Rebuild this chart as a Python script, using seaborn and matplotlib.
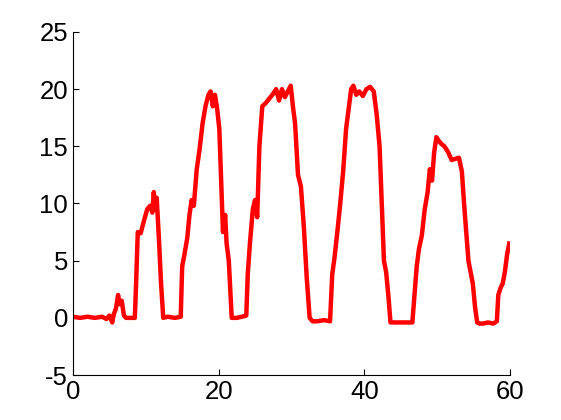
import matplotlib
matplotlib.use("Agg")
import matplotlib.pyplot as plt
import seaborn as sns

# signal (time vs. value)
t = [0, 1, 2, 3, 4, 4.6, 5.0, 5.4, 5.6, 5.9, 6.2, 6.4, 6.7, 7.0, 7.3, 8.0, 8.5,
     8.7, 8.9, 9.3, 9.8, 10.2, 10.6, 10.9, 11.1, 11.3, 11.5, 11.8, 12.1, 12.4, 13.0,
     14.0, 14.8, 15.0, 15.3, 15.7, 16.0, 16.3, 16.6, 17.0, 17.4, 17.8, 18.2, 18.6,
     18.9, 19.2, 19.5, 19.8, 20.1, 20.4, 20.6, 20.9, 21.1, 21.4, 21.8, 22.5, 23.2,
     23.8, 24.0, 24.3, 24.7, 25.0, 25.3, 25.6, 26.0, 26.5, 27.0, 27.5, 27.9, 28.3,
     28.7, 29.1, 29.5, 29.9, 30.2, 30.5, 30.9, 31.3, 31.7, 32.1, 32.5, 32.9, 33.5,
     34.5, 35.3, 35.6, 35.9, 36.3, 36.7, 37.1, 37.5, 37.9, 38.2, 38.5, 38.9, 39.3,
     39.8, 40.3, 40.8, 41.3, 41.7, 42.1, 42.4, 42.7, 43.0, 43.3, 43.6, 44.5, 45.5,
     46.6, 46.9, 47.2, 47.5, 47.9, 48.3, 48.7, 49.0, 49.3, 49.6, 49.9, 50.2, 50.6,
     51.0, 51.5, 52.0, 52.5, 53.0, 53.4, 53.7, 54.0, 54.3, 54.6, 54.9, 55.2, 55.5,
     55.8, 56.3, 57.0, 57.7, 58.2, 58.4, 58.7, 59.0, 59.3, 59.6, 59.9]
v = [0.1, 0.0, 0.1, 0.0, 0.1, -0.1, 0.2, -0.4, 0.3, 0.8, 2.0, 1.2, 1.5, 0.2, 0.0, 0.0, 0.0,
     3.5, 7.5, 7.4, 8.6, 9.5, 9.8, 9.2, 11.0, 9.5, 10.5, 7.0, 3.0, 0.0, 0.1,
     0.0, 0.1, 4.5, 5.5, 7.0, 9.0, 10.3, 9.8, 13.0, 14.8, 17.0, 18.5, 19.5,
     19.8, 18.5, 19.5, 18.3, 16.5, 11.0, 7.5, 9.0, 6.5, 5.0, 0.0, 0.0, 0.1,
     0.2, 3.8, 6.5, 9.5, 10.3, 8.8, 15.0, 18.5, 18.8, 19.2, 19.6, 20.0, 19.0,
     20.0, 19.3, 19.8, 20.3, 18.5, 17.0, 12.5, 11.5, 8.0, 3.5, 0.0, -0.3, -0.3,
     -0.2, -0.3, 3.8, 5.2, 7.5, 10.0, 12.8, 16.5, 18.5, 20.0, 20.3, 19.5, 19.8,
     19.4, 20.0, 20.2, 19.8, 17.8, 15.0, 10.0, 5.0, 4.0, 2.0, -0.4, -0.4, -0.4,
     -0.4, 2.0, 4.5, 6.0, 7.2, 9.5, 11.0, 13.0, 12.0, 14.5, 15.8, 15.5, 15.2,
     15.0, 14.5, 13.8, 13.9, 14.0, 12.8, 10.0, 7.5, 5.0, 4.0, 3.0, 1.0, -0.4,
     -0.5, -0.5, -0.4, -0.5, -0.3, 2.0, 2.6, 3.0, 4.0, 5.5, 6.5]
x_ticks = [0, 20, 40, 60]
y_ticks = [-5, 0, 5, 10, 15, 20, 25]

plt.rcParams['font.family'] = ['Liberation Sans', 'DejaVu Sans']
plt.rcParams['axes.unicode_minus'] = False

fig = plt.figure(figsize=(5.61, 4.2), dpi=100)
ax = fig.add_axes([0.130, 0.107, 0.779, 0.817])
sns.lineplot(x=t, y=v, ax=ax, color='#ff0000', lw=3.2, sort=False, estimator=None)

ax.set_xlim(0, 60)
ax.set_ylim(-5, 25)
ax.set_xticks(x_ticks)
ax.set_yticks(y_ticks)
ax.tick_params(direction='in', length=4, labelsize=18.5, top=False, right=False)
ax.spines['top'].set_visible(False)
ax.spines['right'].set_visible(False)

fig.savefig('out.png', dpi=100)
